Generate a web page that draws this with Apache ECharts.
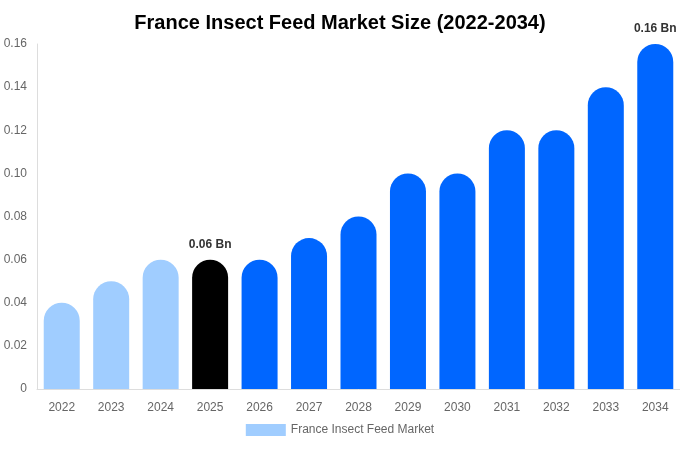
<!DOCTYPE html>
<html>
<head>
<meta charset="utf-8">
<script src="https://cdn.jsdelivr.net/npm/echarts@6/dist/echarts.min.js"></script>
<style>
  html, body { margin: 0; padding: 0; background: #fff; }
  #chart { width: 680px; height: 450px; }
</style>
</head>
<body>
<div id="chart"></div>
<script>
const years = ['2022', '2023', '2024', '2025', '2026', '2027', '2028', '2029', '2030', '2031', '2032', '2033', '2034']
const marketSize = [0.04, 0.05, 0.06, 0.06, 0.06, 0.07, 0.08, 0.10, 0.10, 0.12, 0.12, 0.14, 0.16]
const labeledYears = ['2025', '2034']

const lightBlue = '#a0cdff'
const blue = '#0066ff'

const chart = echarts.init(document.getElementById('chart'))

const barData = marketSize.map((v, i) => {
  const y = years[i]
  let color = blue
  if (+y < 2025) color = lightBlue
  if (y === '2025') color = '#000000'
  const item = { value: v, itemStyle: { color } }
  if (labeledYears.includes(y)) {
    item.label = {
      show: true,
      position: 'top',
      distance: 9,
      formatter: '{c} Bn',
      fontSize: 12,
      fontWeight: 'bold',
      color: '#333'
    }
  }
  return item
})

chart.setOption({
  animation: false,
  title: {
    text: 'France Insect Feed Market Size (2022-2034)',
    left: 'center',
    top: 8,
    textStyle: { fontSize: 20, fontWeight: 'bold', color: '#000', fontFamily: 'Liberation Sans, Arial, sans-serif' }
  },
  legend: {
    bottom: 9,
    left: 'center',
    itemWidth: 40,
    itemHeight: 12,
    icon: 'rect',
    textStyle: { fontSize: 12, color: '#666', fontFamily: 'Liberation Sans, Arial, sans-serif' }
  },
  grid: { left: 37, right: 0, top: 44, bottom: 61 },
  xAxis: {
    type: 'category',
    data: years,
    axisTick: { show: false },
    axisLine: { lineStyle: { color: '#ddd' } },
    axisLabel: { color: '#666', fontSize: 12, margin: 13, fontFamily: 'Liberation Sans, Arial, sans-serif' }
  },
  yAxis: {
    type: 'value',
    min: 0,
    max: 0.16,
    interval: 0.02,
    splitLine: { show: false },
    axisLine: { show: true, lineStyle: { color: '#ddd' } },
    axisTick: { show: false },
    axisLabel: {
      color: '#666',
      fontSize: 12,
      margin: 10,
      fontFamily: 'Liberation Sans, Arial, sans-serif',
      formatter: v => (v === 0 ? '0' : v.toFixed(2))
    }
  },
  series: [{
    name: 'France Insect Feed Market',
    type: 'bar',
    barWidth: 36,
    itemStyle: { color: lightBlue, borderRadius: [18, 18, 0, 0] },
    data: barData
  }]
})
</script>
</body>
</html>
